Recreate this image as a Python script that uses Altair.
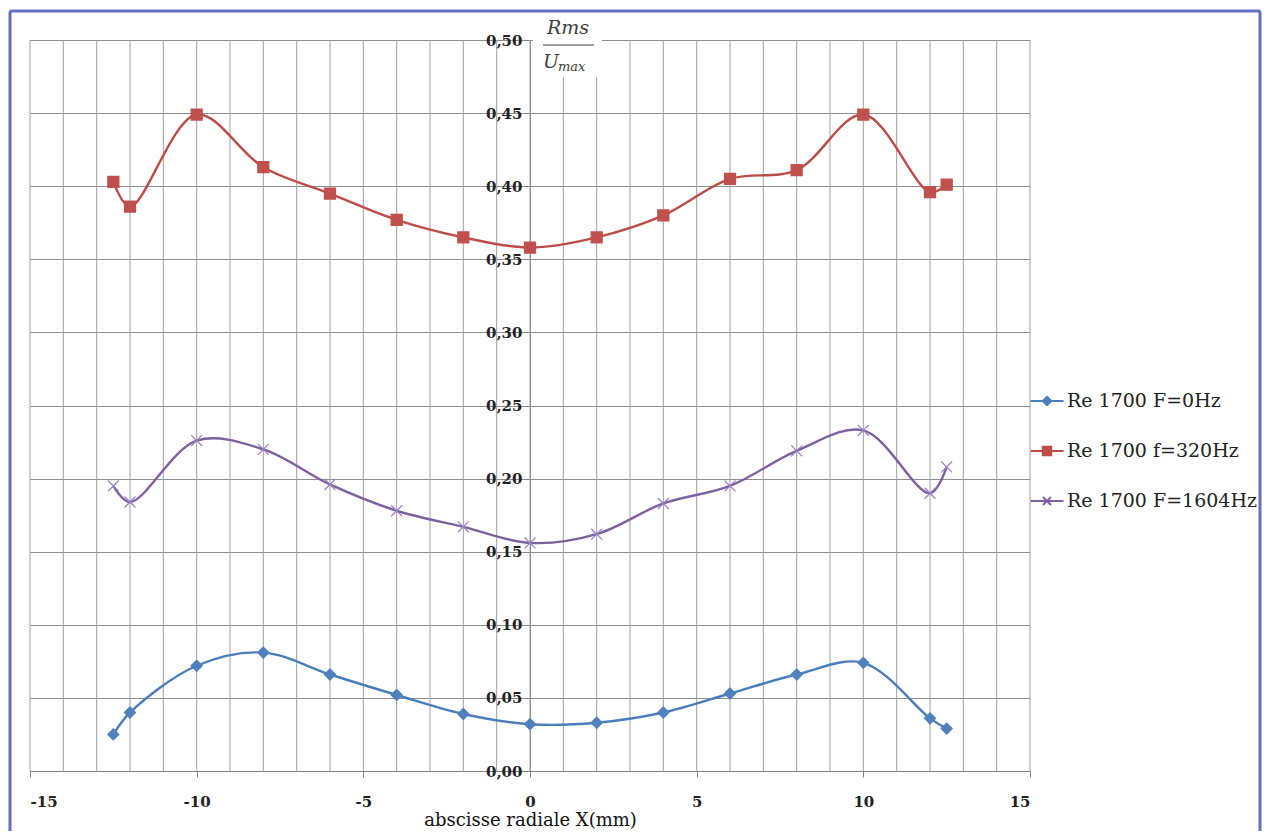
import altair as alt
import pandas as pd

# ---- data ----
x_mm = [-12.5, -12, -10, -8, -6, -4, -2, 0, 2, 4, 6, 8, 10, 12, 12.5]
rms_0hz = [0.025, 0.040, 0.072, 0.081, 0.066, 0.052, 0.039, 0.032, 0.033, 0.040, 0.053, 0.066, 0.074, 0.036, 0.029]
rms_320hz = [0.403, 0.386, 0.449, 0.413, 0.395, 0.377, 0.365, 0.358, 0.365, 0.380, 0.405, 0.411, 0.449, 0.396, 0.401]
rms_1604hz = [0.195, 0.184, 0.226, 0.220, 0.196, 0.178, 0.167, 0.156, 0.162, 0.183, 0.195, 0.219, 0.233, 0.190, 0.208]
series_names = ["Re 1700 F=0Hz", "Re 1700 f=320Hz", "Re 1700 F=1604Hz"]
x_label_ticks = [-15, -10, -5, 0, 5, 10, 15]
x_grid = list(range(-15, 16))
y_ticks = [0.00, 0.05, 0.10, 0.15, 0.20, 0.25, 0.30, 0.35, 0.40, 0.45, 0.50]
x_title = "abscisse radiale X(mm)"
y_title_num = "Rms"
y_title_den = "U"
y_title_sub = "max"

# ---- styles ----
line_colors = ["#4A7EBB", "#BE4B48", "#7D60A0"]
marker_colors = ["#4F81BD", "#C0504D", "#9A84C4"]
marker_paths = [
    "M0,-1L1,0L0,1L-1,0Z",
    "M-1,-1L1,-1L1,1L-1,1Z",
    "M-1,-1L1,1M-1,1L1,-1",
]
legend_paths = [
    "M-1.65,0L1.65,0M0,-0.42L0.42,0L0,0.42L-0.42,0Z",
    "M-1.65,0L1.65,0M-0.42,-0.42L0.42,-0.42L0.42,0.42L-0.42,0.42Z",
    "M-1.65,0L1.65,0M-0.4,-0.4L0.4,0.4M-0.4,0.4L0.4,-0.4",
]
FONT = "DejaVu Serif"
W, H = 1000, 731

rows = []
for name, vals in zip(series_names, [rms_0hz, rms_320hz, rms_1604hz]):
    for xv, yv in zip(x_mm, vals):
        rows.append({"x": xv, "v": yv, "series": name})
df = pd.DataFrame(rows)
grid_df = pd.DataFrame({"g": x_grid})
one = pd.DataFrame({"a": [0]})

legend = alt.Legend(
    title=None, orient="none", legendX=1006, legendY=350, padding=0,
    symbolSize=400, symbolOpacity=1, symbolStrokeWidth=2,
    labelFont=FONT, labelFontSize=19, labelColor="#222222", labelLimit=0,
    labelOffset=9, rowPadding=29,
)

x_scale = alt.Scale(domain=[-15, 15], nice=False, zero=False)
y_scale = alt.Scale(domain=[0, 0.5], nice=False)
x_axis = alt.Axis(
    values=x_label_ticks, grid=False, tickSize=6, tickColor="#808080",
    domainColor="#808080", labelFont=FONT, labelFontWeight="bold",
    labelFontSize=15, labelColor="#222222", labelPadding=17,
    labelExpr="'' + datum.value", labelOverlap=False,
    title=x_title, titleFont=FONT, titleFontSize=18, titleFontWeight="normal",
    titleColor="#111111", titlePadding=2,
)
y_axis = alt.Axis(
    values=y_ticks, grid=True, gridColor="#8E8E8E", gridWidth=1,
    offset=-W / 2, tickSize=6, tickColor="#808080", domainColor="#808080",
    labelFont=FONT, labelFontWeight="bold", labelFontSize=15,
    labelColor="#222222", labelPadding=2,
    labelExpr="replace(format(datum.value, '.2f'), '.', ',')",
    title=None,
)
X = alt.X("x:Q", scale=x_scale, axis=x_axis)
Y = alt.Y("v:Q", scale=y_scale, axis=y_axis)

frame = alt.Chart(one).mark_rect(
    fill="transparent", stroke="#6470BE", strokeWidth=3, cornerRadius=2
).encode(x=alt.value(-20), x2=alt.value(1230), y=alt.value(-29), y2=alt.value(805))

vgrid = alt.Chart(grid_df).mark_rule(color="#A0A0A0", strokeWidth=1).encode(
    x=alt.X("g:Q", scale=x_scale, axis=x_axis), y=alt.value(0), y2=alt.value(H)
)

# invisible layer that only provides the legend (line + marker symbols)
legend_layer = alt.Chart(df).mark_point(filled=False, opacity=0, size=400).encode(
    x=X, y=Y,
    color=alt.Color("series:N", scale=alt.Scale(domain=series_names, range=line_colors), legend=legend),
    fill=alt.Fill("series:N", scale=alt.Scale(domain=series_names, range=line_colors), legend=legend),
    shape=alt.Shape("series:N", scale=alt.Scale(domain=series_names, range=legend_paths), legend=legend),
)

line_layers = []
point_layers = []
for name, path, lcol, mcol in zip(series_names, marker_paths, line_colors, marker_colors):
    base = alt.Chart(df).transform_filter(alt.datum.series == name)
    line_layers.append(
        base.mark_line(interpolate="catmull-rom", strokeWidth=2.4, color=lcol).encode(x=X, y=Y)
    )
    point_layers.append(
        base.mark_point(shape=path, filled=True, fill=mcol, stroke=mcol, strokeWidth=1.3, size=120, opacity=1)
        .encode(x=X, y=Y)
    )

label_box = alt.Chart(one).mark_rect(fill="white").encode(
    x=alt.value(503), x2=alt.value(572), y=alt.value(-25), y2=alt.value(37)
)
num = alt.Chart(one).mark_text(
    font=FONT, fontStyle="italic", fontSize=19, color="#404040", align="center", baseline="middle"
).encode(x=alt.value(538), y=alt.value(-12), text=alt.value(y_title_num))
bar = alt.Chart(one).mark_rule(color="#404040", strokeWidth=1.2).encode(
    x=alt.value(513), x2=alt.value(564), y=alt.value(5)
)
den = alt.Chart(one).mark_text(
    font=FONT, fontStyle="italic", fontSize=19, color="#404040", align="left", baseline="alphabetic"
).encode(x=alt.value(513), y=alt.value(28), text=alt.value(y_title_den))
sub = alt.Chart(one).mark_text(
    font=FONT, fontStyle="italic", fontSize=13, color="#404040", align="left", baseline="alphabetic"
).encode(x=alt.value(528), y=alt.value(31), text=alt.value(y_title_sub))

chart = alt.layer(
    frame, vgrid, legend_layer, *line_layers, *point_layers, label_box, num, bar, den, sub
).properties(
    width=W, height=H,
    autosize=alt.AutoSizeParams(type="none"),
    padding={"left": 22, "top": 32, "right": 232, "bottom": 60},
    background="white",
).configure_view(stroke=None)

chart.save("out.html", embed_options={"renderer": "svg", "actions": False})
